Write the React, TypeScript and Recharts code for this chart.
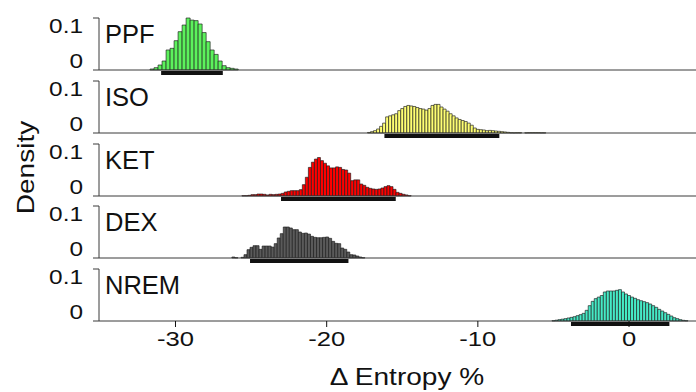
import React from 'react';
import { ComposedChart, Bar, XAxis, YAxis, ReferenceLine } from 'recharts';

// histogram densities, bins (first bin centre + bin width)
const PANEL_LABELS = ['PPF', 'ISO', 'KET', 'DEX', 'NREM'];
const BIN_START = [-31.55, -17.2, -25.51, -26.17, -5.0];
const BIN_WIDTH = [0.265, 0.2, 0.2, 0.2, 0.2];

const PPF_DENSITY = [
  0.0019, 0.0045, 0.0096, 0.0173, 0.0385, 0.0417, 0.0564, 0.0737, 0.0865, 0.1, 0.096,
  0.095, 0.0885, 0.072, 0.0545, 0.0385, 0.03, 0.0173, 0.0083, 0.0045, 0.0032, 0.0019,
];
const ISO_DENSITY = [
  0.001, 0.0026, 0.0045, 0.0077, 0.0128, 0.019, 0.031, 0.033, 0.035, 0.037, 0.043, 0.047,
  0.051, 0.053, 0.052, 0.051, 0.049, 0.047, 0.046, 0.044, 0.047, 0.053, 0.055, 0.055, 0.05,
  0.046, 0.042, 0.037, 0.033, 0.029, 0.026, 0.024, 0.022, 0.019, 0.015, 0.0096, 0.007,
  0.0064, 0.0058, 0.0045, 0.005, 0.0045, 0.0038, 0.0032, 0.0026, 0.002, 0.0013, 0.0006,
  0.0004, 0.0006, 0.0006, 0, 0.0004, 0.0006, 0.0006, 0.0006, 0.0006, 0.0004, 0.0004,
];
const KET_DENSITY = [
  0.0006, 0.0006, 0.0013, 0.0026, 0.0026, 0.0038, 0.0038, 0.0032, 0.002, 0.0032, 0.0026,
  0.0032, 0.0038, 0.0051, 0.0077, 0.009, 0.0103, 0.0103, 0.0103, 0.0122, 0.0218, 0.036,
  0.055, 0.065, 0.071, 0.074, 0.068, 0.063, 0.058, 0.054, 0.054, 0.056, 0.055, 0.051, 0.05,
  0.044, 0.0295, 0.031, 0.031, 0.023, 0.0205, 0.0167, 0.0147, 0.0135, 0.0128, 0.0135,
  0.0154, 0.018, 0.0199, 0.018, 0.0128, 0.007, 0.0051, 0.0032, 0.002, 0.0006,
];
const DEX_DENSITY = [
  0.0019, 0.0006, 0, 0.0013, 0.0064, 0.016, 0.0205, 0.0237, 0.0237, 0.0167, 0.023, 0.023,
  0.023, 0.021, 0.0276, 0.0385, 0.0468, 0.0596, 0.0596, 0.0577, 0.0545, 0.0545, 0.05,
  0.0474, 0.048, 0.046, 0.0417, 0.0397, 0.039, 0.039, 0.0397, 0.0404, 0.0378, 0.032,
  0.0282, 0.0276, 0.0192, 0.0167, 0.0115, 0.0064, 0.0058, 0.0038, 0.0019, 0.0006,
];
const NREM_DENSITY = [
  0.0006, 0.0016, 0.0026, 0.0035, 0.0045, 0.0058, 0.007, 0.0083, 0.0103, 0.0122, 0.0147,
  0.0205, 0.0295, 0.0378, 0.043, 0.046, 0.049, 0.0558, 0.0577, 0.0577, 0.0577, 0.059,
  0.0603, 0.0558, 0.052, 0.049, 0.046, 0.0436, 0.041, 0.039, 0.0372, 0.0353, 0.0327,
  0.0295, 0.0263, 0.0224, 0.0192, 0.016, 0.0128, 0.0096, 0.0064, 0.0045, 0.0026, 0.0013,
  0.0006,
];

// black interval bars under each histogram
const CI_LOW = [-30.95, -16.18, -23.02, -25.07, -3.84];
const CI_HIGH = [-26.87, -8.58, -15.43, -18.56, 2.67];

const X_TICKS = [-30, -20, -10, 0];
const Y_TICKS = [0, 0.1];
const X_DOMAIN = [-35.06, 4.43];

const DENSITIES = [PPF_DENSITY, ISO_DENSITY, KET_DENSITY, DEX_DENSITY, NREM_DENSITY];
const FILLS = ['#5cf25c', '#ffff73', '#ff0000', '#5a5a5a', '#46eac6'];

const FONT = '"Liberation Sans", Arial, Helvetica, sans-serif';
const SX = 1.22; // tick/axis text in the figure is set wide
const AXIS = '#3a3a3a';

const W = 696;
const FIRST_TOP = 18;
const STEP = 62.75;
const PLOT_H = 52;
const PAD_TOP = 30;

function WideText({ x, y, size, anchor = 'start', rotate = 0, sx = SX, children }: any) {
  const tf = `translate(${x} ${y})${rotate ? ` rotate(${rotate})` : ''} scale(${sx} 1)`;
  return (
    <text x={0} y={0} transform={tf} fontSize={size} fontFamily={FONT} fill="#111" textAnchor={anchor}>
      {children}
    </text>
  );
}

function YTick({ x, y, payload }: any) {
  const top = payload.value > 0;
  return (
    <WideText x={x} y={top ? y + 14.5 : y - 2} size={20} anchor="end">
      {payload.value === 0 ? '0' : String(payload.value)}
    </WideText>
  );
}

function XTick({ x, y, payload }: any) {
  return (
    <WideText x={x} y={y + 19} size={21} anchor="middle">
      {String(payload.value)}
    </WideText>
  );
}

function Panel({ idx }: { idx: number }) {
  const last = idx === DENSITIES.length - 1;
  const top = FIRST_TOP + STEP * idx - PAD_TOP;
  const height = last ? 392 - top : PAD_TOP + PLOT_H + 26;
  const data = DENSITIES[idx].map((v, i) => ({ x: BIN_START[idx] + i * BIN_WIDTH[idx], v }));

  const yLabel = ({ viewBox }: any) => (
    <g>
      <WideText x={viewBox.x + viewBox.width + 6} y={viewBox.y + 25} size={25.5} sx={1}>
        {PANEL_LABELS[idx]}
      </WideText>
      {idx === 2 && (
        <WideText x={34} y={viewBox.y + viewBox.height / 2 - 2.5} size={23} anchor="middle" rotate={-90}>
          Density
        </WideText>
      )}
    </g>
  );

  const xLabel = ({ viewBox }: any) => (
    <WideText x={viewBox.x + viewBox.width / 2 + 9.5} y={viewBox.y + 64} size={23} anchor="middle">
      Δ Entropy %
    </WideText>
  );

  return (
    <div style={{ position: 'absolute', left: 0, top }}>
      <ComposedChart
        width={W}
        height={height}
        data={data}
        margin={{ top: PAD_TOP, right: 0, bottom: 0, left: 0 }}
        barCategoryGap={0}
        barGap={0}
      >
        <XAxis
          dataKey="x"
          type="number"
          domain={X_DOMAIN}
          ticks={X_TICKS}
          allowDataOverflow
          height={height - PAD_TOP - PLOT_H}
          tickSize={6}
          tickMargin={0}
          tick={last ? <XTick /> : false}
          stroke={AXIS}
          tickLine={{ stroke: '#111' }}
          label={last ? { content: xLabel } : undefined}
        />
        <YAxis
          type="number"
          domain={[0, 0.1]}
          ticks={Y_TICKS}
          width={99}
          tickSize={6}
          tickMargin={10}
          tick={<YTick />}
          stroke={AXIS}
          label={{ content: yLabel }}
        />
        <Bar
          dataKey="v"
          fill={FILLS[idx]}
          stroke="#1a1a1a"
          strokeWidth={0.65}
          isAnimationActive={false}
        />
        <ReferenceLine
          segment={[
            { x: CI_LOW[idx], y: -0.0058 },
            { x: CI_HIGH[idx], y: -0.0058 },
          ]}
          ifOverflow="visible"
          stroke="#111"
          strokeWidth={4}
        />
      </ComposedChart>
    </div>
  );
}

export default function App() {
  return (
    <div style={{ position: 'absolute', left: 0, top: 0, width: W, height: 392, background: '#fff', overflow: 'hidden' }}>
      {PANEL_LABELS.map((_, i) => (
        <Panel key={i} idx={i} />
      ))}
    </div>
  );
}
